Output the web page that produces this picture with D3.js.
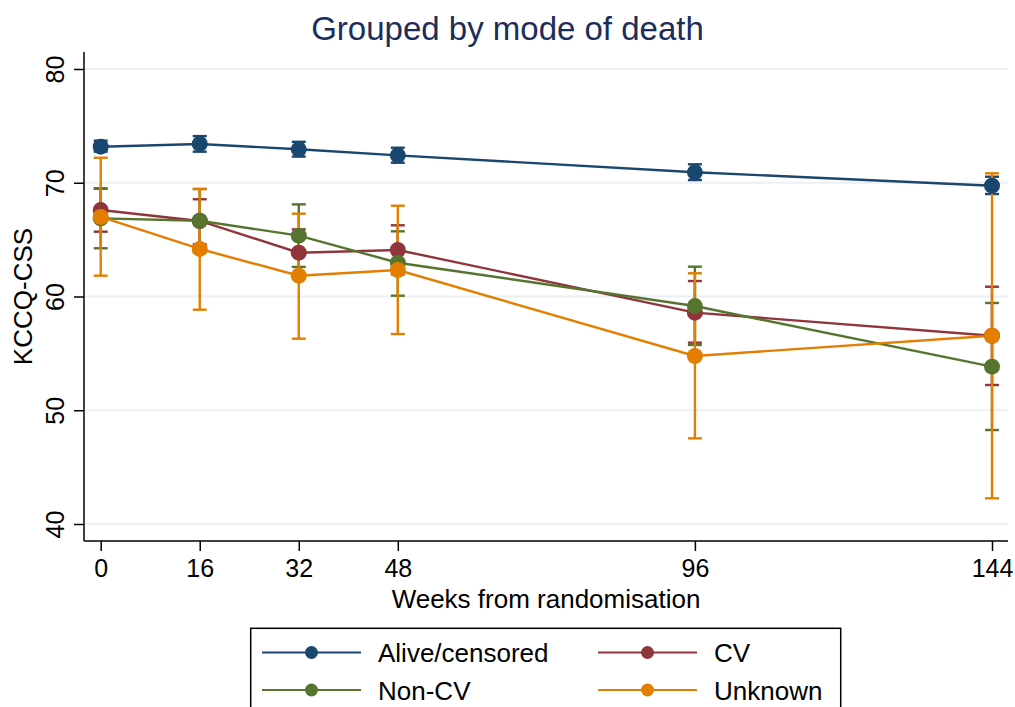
<!DOCTYPE html>
<html>
<head>
<meta charset="utf-8">
<script src="https://cdn.jsdelivr.net/npm/d3@7/dist/d3.min.js"></script>
<style>
  html, body { margin: 0; padding: 0; background: #ffffff; }
  svg { display: block; font-family: "Liberation Sans", Arial, Helvetica, sans-serif; }
</style>
</head>
<body>
<svg id="chart" width="1015" height="707"></svg>
<script>
// Follow-up visits (weeks) and y-axis ticks
const weeks = [0, 16, 32, 48, 96, 144];
const yTicks = [40, 50, 60, 70, 80];

// Series names and colours
const seriesNames = ["Alive/censored", "CV", "Non-CV", "Unknown"];
const seriesColors = ["#1a476f", "#90353b", "#55752f", "#e37e00"];

// Mean KCCQ-CSS and 95% CI bounds by mode of death
const aliveMean = [73.17, 73.41, 72.94, 72.41, 70.92, 69.74];
const aliveLo   = [72.73, 72.73, 72.30, 71.76, 70.24, 69.01];
const aliveHi   = [73.70, 74.10, 73.60, 73.08, 71.62, 70.53];

const cvMean = [67.60, 66.64, 63.85, 64.09, 58.58, 56.55];
const cvLo   = [65.70, 64.60, 61.80, 61.95, 55.94, 52.22];
const cvHi   = [69.50, 68.55, 65.90, 66.26, 61.36, 60.86];

const noncvMean = [66.87, 66.66, 65.35, 62.97, 59.16, 53.83];
const noncvLo   = [64.24, 63.87, 62.60, 60.07, 55.74, 48.26];
const noncvHi   = [69.48, 69.45, 68.10, 65.73, 62.62, 59.43];

const unkMean = [67.00, 64.18, 61.83, 62.33, 54.77, 56.55];
const unkLo   = [61.83, 58.84, 56.29, 56.70, 47.53, 42.26];
const unkHi   = [72.20, 69.45, 67.28, 67.98, 62.04, 70.83];

const seriesMeans = [aliveMean, cvMean, noncvMean, unkMean];
const seriesLo = [aliveLo, cvLo, noncvLo, unkLo];
const seriesHi = [aliveHi, cvHi, noncvHi, unkHi];

const series = seriesNames.map((name, i) => ({
  name,
  color: seriesColors[i],
  points: weeks.map((w, j) => ({ w, m: seriesMeans[i][j], lo: seriesLo[i][j], hi: seriesHi[i][j] }))
}));

const svg = d3.select("#chart");

// Plot region
const plot = { left: 84, right: 1008, top: 52, bottom: 541 };
const x = d3.scaleLinear().domain([0, 144]).range([100.7, 992]);
const y = d3.scaleLinear().domain([40, 80]).range([524, 69]);

// Title
svg.append("text")
  .attr("x", 507.5).attr("y", 40)
  .attr("text-anchor", "middle")
  .attr("font-size", 33)
  .attr("fill", "#1c2d5a")
  .text("Grouped by mode of death");

// Gridlines
svg.append("g").selectAll("line").data(yTicks).join("line")
  .attr("x1", plot.left).attr("x2", plot.right)
  .attr("y1", d => y(d)).attr("y2", d => y(d))
  .attr("stroke", "#eaf0f3").attr("stroke-width", 2);

// Y axis
const yAxis = svg.append("g").attr("transform", `translate(${plot.left},0)`)
  .call(d3.axisLeft(y).tickValues(yTicks).tickSize(10).tickSizeOuter(0).tickFormat(d3.format("d")));
yAxis.select(".domain").remove();
yAxis.selectAll(".tick line").attr("stroke", "#000").attr("stroke-width", 1.5);
yAxis.selectAll(".tick text")
  .attr("x", null).attr("dy", null)
  .attr("transform", "translate(-20,0) rotate(-90)")
  .attr("text-anchor", "middle")
  .attr("font-size", 25)
  .attr("font-family", "'Liberation Sans', Arial, Helvetica, sans-serif")
  .attr("fill", "#000");
svg.append("line")
  .attr("x1", plot.left).attr("x2", plot.left)
  .attr("y1", plot.top).attr("y2", plot.bottom)
  .attr("stroke", "#000").attr("stroke-width", 1.5);

// X axis
const xAxis = svg.append("g").attr("transform", `translate(0,${plot.bottom})`)
  .call(d3.axisBottom(x).tickValues(weeks).tickSize(10).tickSizeOuter(0).tickFormat(d3.format("d")));
xAxis.select(".domain").remove();
xAxis.selectAll(".tick line").attr("stroke", "#000").attr("stroke-width", 1.5);
xAxis.selectAll(".tick text")
  .attr("y", 36).attr("dy", null)
  .attr("font-size", 25)
  .attr("font-family", "'Liberation Sans', Arial, Helvetica, sans-serif")
  .attr("fill", "#000");
svg.append("line")
  .attr("x1", plot.left).attr("x2", plot.right)
  .attr("y1", plot.bottom).attr("y2", plot.bottom)
  .attr("stroke", "#000").attr("stroke-width", 1.5);

// Axis titles
svg.append("text")
  .attr("x", 546).attr("y", 608)
  .attr("text-anchor", "middle").attr("font-size", 26).attr("fill", "#000")
  .text("Weeks from randomisation");
svg.append("text")
  .attr("transform", `translate(32,${(plot.top + plot.bottom) / 2}) rotate(-90)`)
  .attr("text-anchor", "middle").attr("font-size", 26).attr("fill", "#000")
  .text("KCCQ-CSS");

// Confidence interval caps
const capHalf = 7;
series.forEach(s => {
  const g = svg.append("g").attr("stroke", s.color).attr("stroke-width", 2.4).attr("fill", "none");
  g.selectAll("line.v").data(s.points).join("line").attr("class", "v")
    .attr("x1", d => x(d.w)).attr("x2", d => x(d.w))
    .attr("y1", d => y(d.lo)).attr("y2", d => y(d.hi));
  g.selectAll("line.hi").data(s.points).join("line").attr("class", "hi")
    .attr("x1", d => x(d.w) - capHalf).attr("x2", d => x(d.w) + capHalf)
    .attr("y1", d => y(d.hi)).attr("y2", d => y(d.hi));
  g.selectAll("line.lo").data(s.points).join("line").attr("class", "lo")
    .attr("x1", d => x(d.w) - capHalf).attr("x2", d => x(d.w) + capHalf)
    .attr("y1", d => y(d.lo)).attr("y2", d => y(d.lo));
});

// Connected means
const line = d3.line().x(d => x(d.w)).y(d => y(d.m));
series.forEach(s => {
  svg.append("path").datum(s.points)
    .attr("d", line).attr("fill", "none")
    .attr("stroke", s.color).attr("stroke-width", 2.4);
  svg.append("g").selectAll("circle").data(s.points).join("circle")
    .attr("cx", d => x(d.w)).attr("cy", d => y(d.m))
    .attr("r", 8).attr("fill", s.color);
});

// Legend
const legend = svg.append("g");
legend.append("rect")
  .attr("x", 250.7).attr("y", 628.3).attr("width", 590).attr("height", 90)
  .attr("fill", "#fff").attr("stroke", "#000").attr("stroke-width", 1.5);
const legPos = [
  { lx: 262, ty: 652.5 }, { lx: 598, ty: 652.5 },
  { lx: 262, ty: 690 },   { lx: 598, ty: 690 }
];
series.forEach((s, i) => {
  const p = legPos[i];
  const g = legend.append("g");
  g.append("line")
    .attr("x1", p.lx).attr("x2", p.lx + 99)
    .attr("y1", p.ty).attr("y2", p.ty)
    .attr("stroke", s.color).attr("stroke-width", 2);
  g.append("circle").attr("cx", p.lx + 49.5).attr("cy", p.ty).attr("r", 6.5).attr("fill", s.color);
  g.append("text")
    .attr("x", p.lx + 116).attr("y", p.ty + 9.5)
    .attr("font-size", 26).attr("fill", "#000")
    .text(s.name);
});
</script>
</body>
</html>
